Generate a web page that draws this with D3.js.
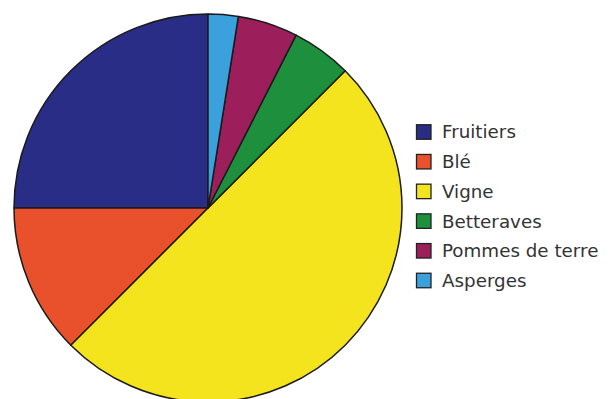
<!DOCTYPE html>
<html><head><meta charset="utf-8">
<script src="https://cdn.jsdelivr.net/npm/d3@7"></script>
<style>html,body{margin:0;padding:0;background:#fff;}</style>
</head><body>
<svg id="c" width="608" height="399"></svg>
<script>
const categories = ["Fruitiers", "Blé", "Vigne", "Betteraves", "Pommes de terre", "Asperges"];
const values = [25, 12.5, 50, 5, 5, 2.5];
const colors = ["#2a2d86", "#e8512b", "#f4e41e", "#1e8f3c", "#9c1f5b", "#3ba1dc"];

const svg = d3.select("#c");
const cx = 208, cy = 208, r = 194;
const data = categories.map((c, i) => ({name: c, value: values[i], color: colors[i]}));
const pie = d3.pie().value(d => d.value).sort(null)
  .startAngle(0).endAngle(-2 * Math.PI);
const arc = d3.arc().innerRadius(0).outerRadius(r);
const g = svg.append("g").attr("transform", `translate(${cx},${cy})`);
g.selectAll("path").data(pie(data)).enter().append("path")
  .attr("d", arc).attr("fill", d => d.data.color)
  .attr("stroke", "#1a1a1a").attr("stroke-width", 1.5).attr("stroke-linejoin", "round");

const color = d3.scaleOrdinal().domain(categories).range(colors);
const y = d3.scalePoint().domain(categories).range([132, 280.5]);
const leg = svg.append("g");
const items = leg.selectAll("g").data(categories).enter().append("g")
  .attr("transform", d => `translate(416.5,${y(d)})`);
items.append("rect").attr("x", 0).attr("y", -7.25).attr("width", 14.5).attr("height", 14.5)
  .attr("fill", d => color(d)).attr("stroke", "#222").attr("stroke-width", 1.3);
items.append("text").attr("x", 25.5).attr("y", 0).attr("dy", "0.35em")
  .attr("font-family", "DejaVu Sans").attr("font-size", 18.3).attr("fill", "#333")
  .text(d => d);
</script>
</body></html>
